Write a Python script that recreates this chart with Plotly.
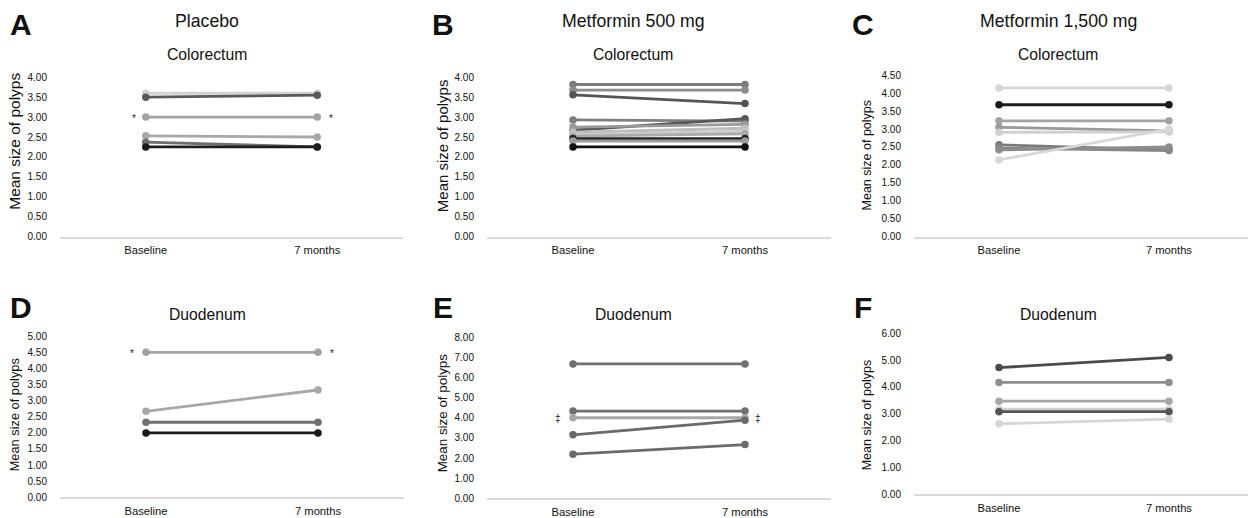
import plotly.graph_objects as go

categories = ["Baseline", "7 months"]

# Panel A: Placebo, Colorectum
a_base = [3.60, 3.50, 3.00, 2.53, 2.37, 2.25]
a_m7 = [3.60, 3.55, 3.00, 2.50, 2.25, 2.25]
a_col = ["#d2d2d2", "#5a5a5a", "#a3a3a3", "#a8a8a8", "#6e6e6e", "#1c1c1c"]

# Panel B: Metformin 500 mg, Colorectum
b_base = [3.82, 3.68, 3.56, 2.93, 2.67, 2.75, 2.62, 2.56, 2.52, 2.46, 2.40, 2.25]
b_m7 = [3.82, 3.68, 3.34, 2.90, 2.96, 2.82, 2.72, 2.64, 2.58, 2.46, 2.40, 2.25]
b_col = ["#7c7c7c", "#8c8c8c", "#555555", "#7f7f7f", "#585858", "#9a9a9a",
         "#bdbdbd", "#cacaca", "#aaaaaa", "#222222", "#9c9c9c", "#111111"]

# Panel C: Metformin 1,500 mg, Colorectum
c_base = [4.15, 3.68, 3.23, 3.05, 2.91, 2.56, 2.47, 2.42, 2.14]
c_m7 = [4.15, 3.68, 3.23, 2.95, 2.92, 2.42, 2.40, 2.50, 3.00]
c_col = ["#d6d6d6", "#1a1a1a", "#a3a3a3", "#999999", "#d0d0d0", "#7a7a7a",
         "#858585", "#8c8c8c", "#d8d8d8"]

# Panel D: Placebo, Duodenum
d_base = [4.50, 2.67, 2.33, 2.00]
d_m7 = [4.50, 3.33, 2.33, 2.00]
d_col = ["#a3a3a3", "#a8a8a8", "#6e6e6e", "#1a1a1a"]

# Panel E: Metformin 500 mg, Duodenum
e_base = [6.67, 4.33, 4.00, 3.15, 2.19]
e_m7 = [6.67, 4.33, 4.00, 3.88, 2.67]
e_col = ["#707070", "#707070", "#a8a8a8", "#6a6a6a", "#6a6a6a"]

# Panel F: Metformin 1,500 mg, Duodenum
f_base = [4.72, 4.17, 3.47, 3.17, 3.08, 2.63]
f_m7 = [5.10, 4.17, 3.47, 3.17, 3.08, 2.80]
f_col = ["#4a4a4a", "#8e8e8e", "#a6a6a6", "#d2d2d2", "#555555", "#d6d6d6"]

y_ranges = [[0, 4.0], [0, 4.0], [0, 4.5], [0, 5.0], [0, 8.0], [0, 6.0]]
y_dticks = [0.5, 0.5, 0.5, 0.5, 1.0, 1.0]
y_title = "Mean size of polyps"
y_title_sizes = [15.5, 15, 12.5, 12.8, 13.4, 12.5]
y_title_pos = [(15, 139), (442, 143.5), (867, 153), (14, 419), (442, 417), (867, 419)]

W, H = 1248, 518
def px(x0, x1):
    return [x0 / W, min(x1 / W, 1.0)]
def py(top, bottom):
    return [1 - bottom / H, 1 - top / H]

panels = [
    (a_base, a_m7, a_col, px(60, 403), py(73, 236), [-0.5, 1.5]),
    (b_base, b_m7, b_col, px(487, 831), py(73, 236), [-0.5, 1.5]),
    (c_base, c_m7, c_col, px(914, 1248), py(71, 236), [-0.5, 1.465]),
    (d_base, d_m7, d_col, px(60, 404), py(338, 503), [-0.5, 1.5]),
    (e_base, e_m7, e_col, px(487, 831), py(339, 504), [-0.5, 1.5]),
    (f_base, f_m7, f_col, px(914, 1248), py(335, 500), [-0.5, 1.465]),
]

FONT = "Arial, Liberation Sans, sans-serif"
fig = go.Figure()
layout = {}
for i, (base, m7, cols, xd, yd, xr) in enumerate(panels):
    n = i + 1
    xa = "x" if n == 1 else f"x{n}"
    ya = "y" if n == 1 else f"y{n}"
    for b, m, c in zip(base, m7, cols):
        fig.add_trace(go.Scatter(
            x=categories, y=[b, m], mode="lines+markers",
            line=dict(color=c, width=2.8), marker=dict(color=c, size=7.5),
            xaxis=xa, yaxis=ya, showlegend=False, hoverinfo="skip"))
    layout["xaxis" if n == 1 else f"xaxis{n}"] = dict(
        domain=xd, anchor=ya, type="category", categoryarray=categories,
        range=xr, showgrid=False, zeroline=False, showline=True,
        linecolor="#d9d9d9", linewidth=1.5, ticks="outside", ticklen=2,
        tickcolor="rgba(0,0,0,0)", tickfont=dict(size=11.2, color="#111", family=FONT),
        fixedrange=True)
    layout["yaxis" if n == 1 else f"yaxis{n}"] = dict(
        domain=yd, anchor=xa, range=y_ranges[i], dtick=y_dticks[i], tick0=0,
        tickformat=".2f", showgrid=False, zeroline=False, showline=False,
        ticks="outside", ticklen=10, tickcolor="rgba(0,0,0,0)",
        tickfont=dict(size=10, color="#111", family=FONT),
        fixedrange=True)

annotations = []
def txt(x, y, t, size, bold=False, angle=0):
    annotations.append(dict(x=x / W, y=1 - y / H, xref="paper", yref="paper",
                            text=f"<b>{t}</b>" if bold else t, textangle=angle,
                            showarrow=False, font=dict(size=size, color="#111", family=FONT),
                            xanchor="center", yanchor="middle"))

# Y axis titles
for (tx, ty), s in zip(y_title_pos, y_title_sizes):
    txt(tx, ty, y_title, s, angle=-90)

# Panel letters
for lx, ly, t in [(21, 19, "A"), (443, 19, "B"), (863, 19, "C"),
                  (21, 309, "D"), (443, 309, "E"), (863, 309, "F")]:
    txt(lx, ly, t, 30, bold=True)
# Group titles
txt(207, 15, "Placebo", 17.7)
txt(633, 15, "Metformin 500 mg", 17.7)
txt(1058, 15, "Metformin 1,500 mg", 17.7)
# Sub titles
for cx in (207, 633, 1058):
    txt(cx, 50, "Colorectum", 15.7)
    txt(cx, 316, "Duodenum", 15.7)

# Significance marks
def mark(xa, ya, cat, val, t, shift):
    annotations.append(dict(x=cat, y=val, xref=xa, yref=ya, text=t, showarrow=False,
                            xshift=shift, yshift=-1, font=dict(size=10, color="#222", family=FONT)))
mark("x", "y", "Baseline", 3.0, "*", -12)
mark("x", "y", "7 months", 3.0, "*", 14)
mark("x4", "y4", "Baseline", 4.5, "*", -14)
mark("x4", "y4", "7 months", 4.5, "*", 14)
mark("x5", "y5", "Baseline", 4.0, "‡", -15)
mark("x5", "y5", "7 months", 4.0, "‡", 13)

fig.update_layout(width=W, height=H, margin=dict(l=0, r=0, t=0, b=0),
                  paper_bgcolor="white", plot_bgcolor="white",
                  font=dict(family=FONT), annotations=annotations, **layout)
fig.write_html("out.html", config={"displayModeBar": False},
               post_script="document.body.style.margin='0';document.body.style.overflow='hidden';")
